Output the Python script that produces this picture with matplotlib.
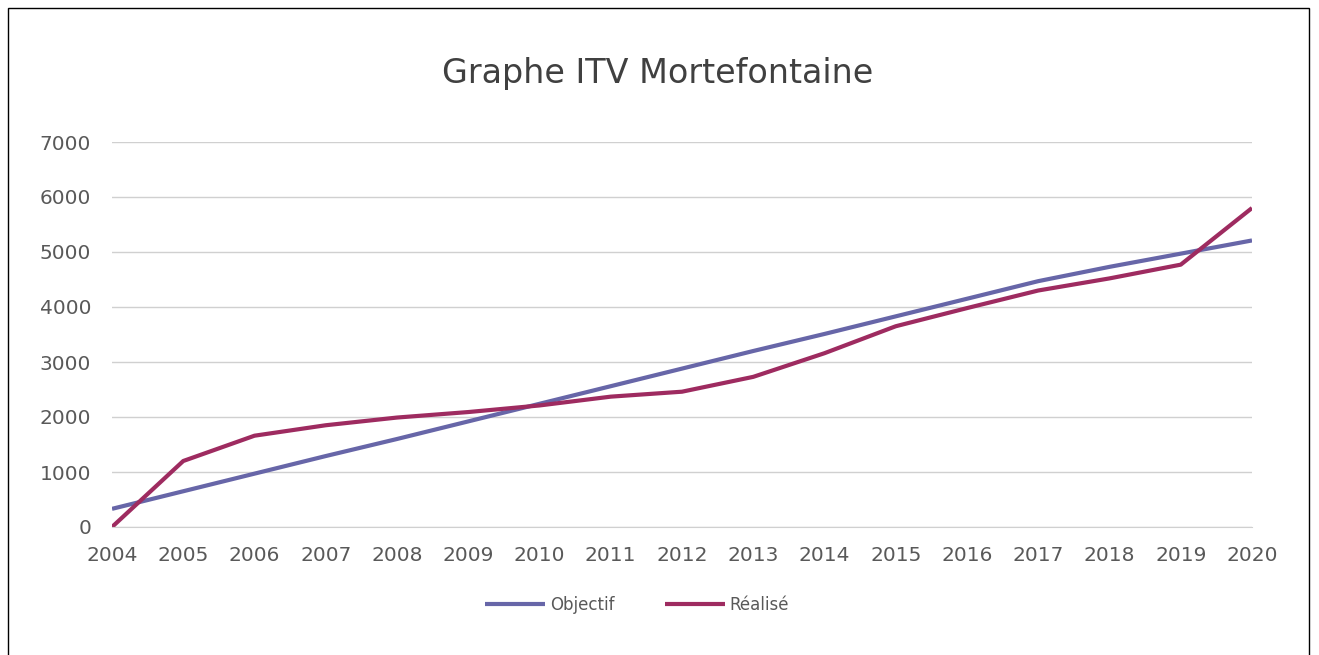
import matplotlib.pyplot as plt
from matplotlib.patches import Rectangle

years = list(range(2004, 2021))
objectif = [330, 650, 970, 1290, 1600, 1920, 2240, 2560, 2880, 3200,
            3510, 3830, 4150, 4470, 4730, 4970, 5210]
realise = [0, 1200, 1660, 1850, 1990, 2090, 2210, 2370, 2460, 2730,
           3160, 3650, 3980, 4300, 4520, 4770, 5800]

text_color = "#595959"

fig = plt.figure(figsize=(13.19, 6.55), dpi=100)
ax = fig.add_axes([112 / 1319, 1 - 527 / 655, (1252 - 112) / 1319, (527 - 142) / 655])

ax.plot(years, objectif, color="#6766A8", lw=3.0, label="Objectif", solid_capstyle="butt")
ax.plot(years, realise, color="#9E2B60", lw=3.0, label="Réalisé", solid_capstyle="butt")

ax.set_xlim(2004, 2020)
ax.set_ylim(0, 7000)
ax.set_xticks(years)
ax.set_yticks(range(0, 7001, 1000))
ax.grid(axis="y", color="#D0D0D0", lw=1)
ax.set_axisbelow(True)
for s in ["top", "right", "left"]:
    ax.spines[s].set_visible(False)
ax.spines["bottom"].set_color("#D0D0D0")
ax.tick_params(length=0, labelsize=14.5, colors=text_color)
ax.tick_params(axis="y", pad=15)
ax.tick_params(axis="x", pad=14)

fig.text(0.4985, 0.888, "Graphe ITV Mortefontaine", ha="center", va="center",
         fontsize=24, color="#404040")

fig.legend(loc="center", bbox_to_anchor=(0.483, 0.076), ncol=2, frameon=False,
           fontsize=12, handlelength=3.6, columnspacing=3.0, handletextpad=0.3,
           labelcolor=text_color)

fig.patches.append(Rectangle((8 / 1319, -0.01), (1309 - 8) / 1319, 1 - 8 / 655 + 0.01,
                             transform=fig.transFigure, fill=False, ec="black", lw=1))

fig.savefig("out.png", dpi=100)
